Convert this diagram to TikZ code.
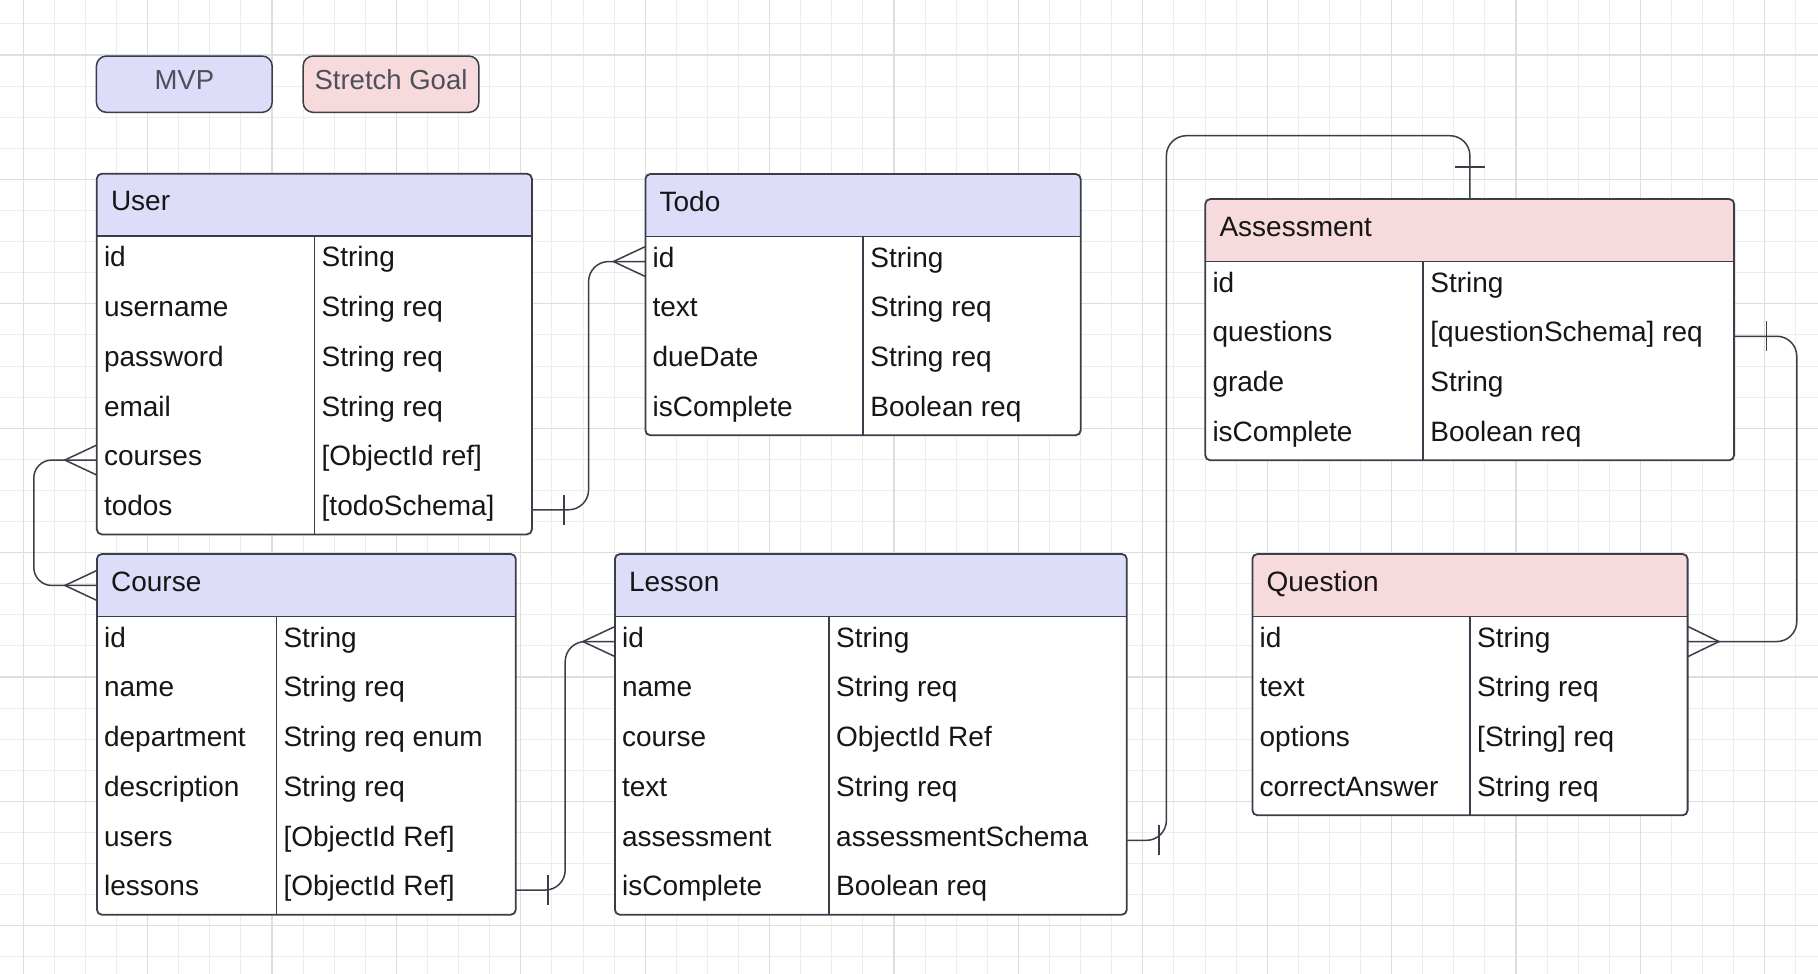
\documentclass[tikz,border=0pt]{standalone}
\usepackage{fontspec}
\setmainfont{Liberation Sans}
\definecolor{mvpc}{RGB}{221,221,250}
\definecolor{strc}{RGB}{247,218,219}
\definecolor{linec}{RGB}{58,62,72}
\definecolor{gridminor}{RGB}{237,237,237}
\definecolor{gridmajor}{RGB}{222,222,222}
\definecolor{txtc}{RGB}{22,22,22}
\definecolor{legtxt}{RGB}{76,80,90}
\tikzset{
  conn/.style={draw=linec, line width=1.5pt},
  tbl/.style={draw=linec, line width=1.8pt},
  rowbox/.style={rectangle, inner sep=0pt, minimum height=49.7pt},
  hdrbox/.style={rectangle, inner sep=0pt, minimum height=62.5pt},
  cell/.style={inner sep=0pt, text=txtc, font=\fontsize{28}{33}\selectfont},
  legendbox/.style={rectangle, rounded corners=10pt, draw=linec, line width=1.5pt,
    minimum width=175.7pt, minimum height=56.3pt, inner sep=0pt,
    text height=19.7pt, text depth=9pt, text=legtxt, font=\fontsize{27.5}{33}\selectfont},
}
% #1 name, #2 left, #3 top, #4 right, #5 divider x, #6 rows, #7 fill, #8 title, #9 rows list
\newcommand{\erdtable}[9]{%
  \pgfmathsetmacro\hb{#3+62.5}%
  \pgfmathsetmacro\bt{\hb+#6*49.7}%
  \pgfmathsetmacro\W{#4-#2}%
  \fill[white, rounded corners=5pt] (#2,#3) rectangle (#4,\bt);
  \begin{scope}
    \clip[rounded corners=5pt] (#2,#3) rectangle (#4,\bt);
    \fill[#7] (#2,#3) rectangle (#4,\hb);
  \end{scope}
  \node[hdrbox, minimum width=\W pt, anchor=north west] (#1-h) at (#2,#3) {};
  \node[cell, anchor=base west] (#1-title) at (#2+14,#3+37) {#8};
  \foreach \fa/\fb [count=\ri] in {#9} {
    \pgfmathsetmacro\rt{\hb+(\ri-1)*49.7}
    \node[rowbox, minimum width=\W pt, anchor=north west] (#1-r\ri) at (#2,\rt) {};
    \node[cell, anchor=base west] (#1-f\ri) at (#2+7,\rt+30.7) {\fa};
    \node[cell, anchor=base west] (#1-y\ri) at (#5+7,\rt+30.7) {\fb};
  }
  \draw[tbl, line width=1.6pt] (#2,\hb) -- (#4,\hb);
  \draw[tbl, line width=1.6pt] (#5,\hb) -- (#5,\bt);
  \draw[tbl, rounded corners=5pt] (#2,#3) rectangle (#4,\bt);
}
\begin{document}
\begin{tikzpicture}[x=1pt, y=-1pt]
\useasboundingbox (0,0) rectangle (1818,974);
\fill[white] (0,0) rectangle (1818,974);
% grid
\foreach \k in {0,...,57} {
  \pgfmathsetmacro\gx{23.2+31.1*\k}
  \draw[gridminor, line width=1pt] (\gx,0) -- (\gx,974);
}
\foreach \k in {0,...,30} {
  \pgfmathsetmacro\gy{23.9+31.1*\k}
  \draw[gridminor, line width=1pt] (0,\gy) -- (1818,\gy);
}
\foreach \k in {0,4,...,56} {
  \pgfmathsetmacro\gx{23.2+31.1*\k}
  \draw[gridmajor, line width=1.2pt] (\gx,0) -- (\gx,974);
}
\foreach \k in {1,5,...,29} {
  \pgfmathsetmacro\gy{23.9+31.1*\k}
  \draw[gridmajor, line width=1.2pt] (0,\gy) -- (1818,\gy);
}
% legend
\node[legendbox, fill=mvpc] (mvp) at (184.3,84.2) {MVP};
\node[legendbox, fill=strc] (stretch) at (391,84.2) {Stretch Goal};
% tables
\erdtable{user}{96.8}{173.7}{531.9}{314.5}{6}{mvpc}{User}{id/String, username/String req, password/String req, email/String req, courses/{[ObjectId ref]}, todos/{[todoSchema]}}
\erdtable{todo}{645.4}{174}{1080.7}{863.2}{4}{mvpc}{Todo}{id/String, text/String req, dueDate/String req, isComplete/Boolean req}
\erdtable{course}{96.9}{554}{515.8}{276.3}{6}{mvpc}{Course}{id/String, name/String req, department/String req enum, description/String req, users/{[ObjectId Ref]}, lessons/{[ObjectId Ref]}}
\erdtable{lesson}{614.9}{554}{1126.8}{829}{6}{mvpc}{Lesson}{id/String, name/String req, course/ObjectId Ref, text/String req, assessment/assessmentSchema, isComplete/Boolean req}
\erdtable{assessment}{1205.3}{199}{1734.1}{1423.2}{4}{strc}{Assessment}{id/String, questions/{[questionSchema] req}, grade/String, isComplete/Boolean req}
\erdtable{question}{1252.4}{554}{1687.6}{1470}{4}{strc}{Question}{id/String, text/String req, options/{[String] req}, correctAnswer/String req}
% connectors
% User.courses -> Course
\draw[conn, rounded corners=18pt] (user-r5.west) -- ++(-63,0) |- (course-h.west);
\draw[conn] (user-r5.west) ++(0,-15) -- ++(-32,15) -- ++(32,15);
\draw[conn] (course-h.west) ++(0,-15) -- ++(-32,15) -- ++(32,15);
% User.todos -> Todo
\draw[conn, rounded corners=20pt] (user-r6.east) -- ++(56.3,0) |- (todo-r1.west);
\draw[conn] (user-r6.east) ++(31.5,-15) -- ++(0,30);
\draw[conn] (todo-r1.west) ++(0,-15) -- ++(-32,15) -- ++(32,15);
% Course.lessons -> Lesson
\draw[conn, rounded corners=20pt] (course-r6.east) -- ++(49,0) |- (lesson-r1.west);
\draw[conn] (course-r6.east) ++(32,-15) -- ++(0,30);
\draw[conn] (lesson-r1.west) ++(0,-15) -- ++(-32,15) -- ++(32,15);
% Lesson.assessment -> Assessment
\coordinate (atop) at (1166.4,135.7);
\draw[conn, rounded corners=20pt] (lesson-r5.east) -| (atop) -| (assessment-h.north);
\draw[conn] (lesson-r5.east) ++(31.7,-15) -- ++(0,30);
\draw[conn] (assessment-h.north) ++(-15,-32) -- ++(30,0);
% Assessment.questions -> Question
\draw[conn, rounded corners=20pt] (assessment-r2.east) -- ++(62.3,0) |- (question-r1.east);
\draw[conn] (assessment-r2.east) ++(32,-15) -- ++(0,30);
\draw[conn] (question-r1.east) ++(0,-15) -- ++(31,15) -- ++(-31,15);
\end{tikzpicture}
\end{document}
